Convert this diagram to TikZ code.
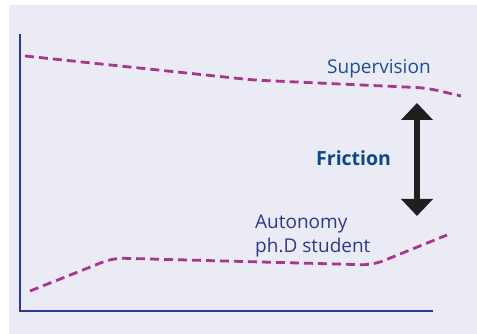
\documentclass[tikz,border=0pt]{standalone}
\usepackage{fontspec}
\setmainfont{Open Sans}
\usetikzlibrary{arrows.meta}

\definecolor{panelbg}{HTML}{EBEBF5}
\definecolor{axisblue}{HTML}{2A3A90}
\definecolor{curvepink}{HTML}{A8368F}
\definecolor{supblue}{HTML}{1E4E96}
\definecolor{fricblue}{HTML}{0D4690}
\definecolor{autblue}{HTML}{2B3A8C}

\tikzset{
    curve/.style={curvepink, line width=2.8pt, dash pattern=on 9pt off 5pt, rounded corners=11pt},
    axisline/.style={axisblue, line width=2.4pt},
    lbl/.style={font=\fontsize{19}{24}\selectfont, inner sep=0pt, anchor=base west, align=left}
}

\begin{document}
\begin{tikzpicture}[x=1pt, y=-1pt]
        \useasboundingbox (0, 0) rectangle (477, 334);
        \fill[panelbg] (9, 5) rectangle (477, 334);

        \coordinate (top) at (20, 34);
        \coordinate (origin) at (20, 311);
        \coordinate (right) at (433, 311);
        \draw[axisline] (top) -- (origin) -- (right);

        \draw[curve] (25, 56) -- (253, 80) -- (427, 88) -- (461, 96);
        \draw[curve] (30, 291) -- (113, 258) -- (373, 265) -- (447, 235);

        \node[lbl, text=supblue] (sup) at (327, 74) {Supervision};
        \node[lbl, text=fricblue, font=\fontsize{19.5}{24}\selectfont\bfseries] (fric) at (316, 166) {Friction};
        \node[lbl, text=autblue] (aut) at (255, 252) {Autonomy\\ph.D student};

        \coordinate (fricTop) at (417, 103);
        \coordinate (fricBot) at (417, 216);
        \draw[line width=5.5pt, black!88, {Triangle[width=31pt, length=17pt]}-{Triangle[width=31pt, length=17pt]}] (fricTop) -- (fricBot);
\end{tikzpicture}
\end{document}
